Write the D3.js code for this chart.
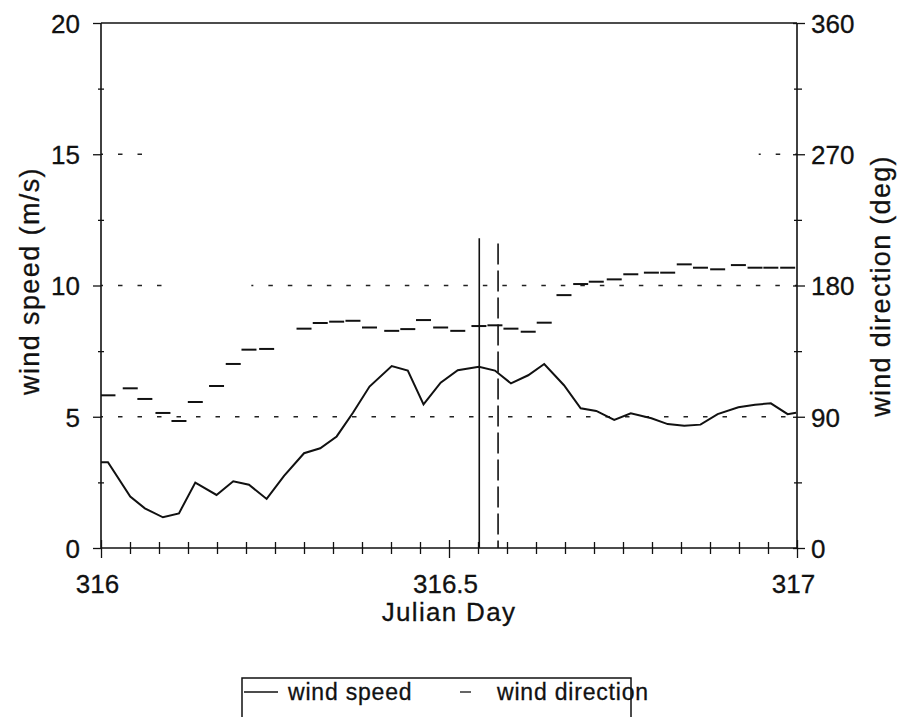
<!DOCTYPE html>
<html>
<head>
<meta charset="utf-8">
<script src="https://cdn.jsdelivr.net/npm/d3@7/dist/d3.min.js"></script>
<style>
  html, body { margin: 0; padding: 0; background: #fff; }
  svg { display: block; }
  text { font-family: "Liberation Sans", Arial, Helvetica, sans-serif; fill: #111; stroke: #111; stroke-width: 0.3px; }
</style>
</head>
<body>
<svg id="chart" width="912" height="717"></svg>
<script>
// ---- data (Julian day offsets from 316) ----
const dayOffset = [0.000, 0.010, 0.042, 0.063, 0.089, 0.112, 0.1355, 0.166, 0.190, 0.2126,
  0.238, 0.263, 0.2917, 0.315, 0.3386, 0.362, 0.3858, 0.4177, 0.4408, 0.4634,
  0.488, 0.5126, 0.543, 0.566, 0.589, 0.6138, 0.6368, 0.6652, 0.6892, 0.7116,
  0.7374, 0.7612, 0.7908, 0.8142, 0.838, 0.8613, 0.886, 0.9158, 0.9397, 0.9624,
  0.9866, 0.9986];
const windSpeed = [3.27, 3.27, 1.96, 1.51, 1.17, 1.32, 2.49, 2.02, 2.54, 2.41,
  1.87, 2.75, 3.61, 3.80, 4.25, 5.15, 6.15, 6.93, 6.76, 5.47,
  6.30, 6.77, 6.90, 6.76, 6.27, 6.58, 7.01, 6.20, 5.32, 5.22,
  4.88, 5.13, 4.94, 4.72, 4.66, 4.70, 5.10, 5.36, 5.46, 5.51,
  5.10, 5.15];
const windDirection = [null, 104.7, 109.5, 102.2, 92.6, 87.1, 100.1, 111.1, 126.2, 136.0,
  136.5, null, 150.4, 154.3, 155.2, 155.8, 151.2, 148.9, 150.1, 156.3,
  151.2, 148.9, 152.2, 152.7, 150.4, 148.3, 154.5, 173.4, 181.0, 182.6,
  184.2, 187.7, 188.8, 188.8, 194.5, 192.2, 191.1, 194.0, 192.2, 192.2,
  192.2, null];
const speedTicks = [0, 5, 10, 15, 20];
const speedMinorTicks = [2.5, 7.5, 12.5, 17.5];
const dirTicks = [0, 90, 180, 270, 360];
const dirMinorTicks = [45, 135, 225, 315];
const dayLabels = [316, 316.5, 317];
// dotted reference lines (value in m/s, visible day ranges)
const gridLines = [
  { value: 5,  from: 316.0,  to: 317.0 },
  { value: 10, from: 316.0,  to: 316.095 },
  { value: 10, from: 316.216, to: 317.0 },
  { value: 15, from: 316.0,  to: 316.065 },
  { value: 15, from: 316.945, to: 317.0 }
];
// vertical event markers: [day, top in m/s]
const eventLines = [
  { day: 316.5435, top: 11.8, style: "solid" },
  { day: 316.5705, top: 11.6, style: "dashed" }
];
const seriesNames = ["wind speed", "wind direction"];

// ---- layout ----
const svg = d3.select("#chart");
const L = 101, R = 797, T = 23, B = 548;
const x = d3.scaleLinear().domain([316, 317]).range([L, R]);
const yS = d3.scaleLinear().domain([0, 20]).range([B, T]);
const yD = d3.scaleLinear().domain([0, 360]).range([B, T]);
const days = dayOffset.map(d => 316 + d);

// dotted grid
svg.append("g").selectAll("line").data(gridLines).join("line")
  .attr("x1", d => x(d.from)).attr("x2", d => x(d.to))
  .attr("y1", d => yS(d.value)).attr("y2", d => yS(d.value))
  .attr("stroke", "#222").attr("stroke-width", 1.5)
  .attr("stroke-dasharray", "4.5,15").attr("stroke-dashoffset", -17);

// frame: top line
svg.append("line").attr("x1", L).attr("x2", R).attr("y1", T).attr("y2", T)
  .attr("stroke", "#111").attr("stroke-width", 1.6);

// left axis
const axL = svg.append("g").attr("transform", `translate(${L},0)`)
  .call(d3.axisLeft(yS).tickValues(speedTicks).tickSize(8).tickPadding(13).tickFormat(d3.format("d")));
const axLm = svg.append("g").attr("transform", `translate(${L},0)`)
  .call(d3.axisLeft(yS).tickValues(speedMinorTicks).tickSize(3).tickFormat(""));
axLm.selectAll(".tick line").attr("x2", 3).attr("x1", -3).attr("stroke", "#111").attr("stroke-width", 1.3);
axLm.select(".domain").remove();

// right axis
const axR = svg.append("g").attr("transform", `translate(${R},0)`)
  .call(d3.axisRight(yD).tickValues(dirTicks).tickSize(8).tickPadding(6).tickFormat(d3.format("d")));
axR.selectAll(".tick line").attr("x1", -4);
const axRm = svg.append("g").attr("transform", `translate(${R},0)`)
  .call(d3.axisRight(yD).tickValues(dirMinorTicks).tickSize(5).tickFormat(""));
axRm.selectAll(".tick line").attr("x1", -3).attr("x2", 5).attr("stroke", "#111").attr("stroke-width", 1.3);
axRm.select(".domain").remove();

// bottom axis
const hourTicks = d3.range(0, 25).map(i => 316 + i / 24);
const isLabel = d => dayLabels.some(v => Math.abs(v - d) < 1e-9);
const axB = svg.append("g").attr("transform", `translate(0,${B})`)
  .call(d3.axisBottom(x).tickValues(hourTicks).tickSize(6)
    .tickFormat(d => isLabel(d) ? d3.format("")(+d.toFixed(1)) : ""));
axB.selectAll(".tick line").attr("y1", -6).attr("y2", 6);
axB.selectAll(".tick").filter(isLabel).select("line").attr("y1", -8).attr("y2", 10);
axB.selectAll(".tick text").attr("y", 45).attr("dy", null).attr("dx", -4);

[axL, axR, axB].forEach(g => {
  g.select(".domain").attr("stroke", "#111").attr("stroke-width", 1.6);
  g.selectAll(".tick line").attr("stroke", "#111").attr("stroke-width", 1.3);
  g.selectAll(".tick text").style("font-size", "26px").attr("fill", "#111");
});
axL.selectAll(".tick text").attr("dy", "0.36em");
axR.selectAll(".tick text").attr("dy", "0.36em");
axL.select(".domain").attr("d", `M0,${B}V${T}`);
axR.select(".domain").attr("d", `M0,${B}V${T}`);
axB.select(".domain").attr("d", `M${L},0H${R}`);

// axis titles
svg.append("text").attr("transform", `translate(39,281) rotate(-90)`)
  .attr("text-anchor", "middle").style("font-size", "27px").style("letter-spacing", "1.4px")
  .text("wind speed (m/s)");
svg.append("text").attr("transform", `translate(890,286) rotate(-90)`)
  .attr("text-anchor", "middle").style("font-size", "27px").style("letter-spacing", "1.3px")
  .text("wind direction (deg)");
svg.append("text").attr("x", 449).attr("y", 621).attr("text-anchor", "middle")
  .style("font-size", "26px").style("letter-spacing", "1.3px").text("Julian Day");

// event lines
svg.append("g").selectAll("line").data(eventLines).join("line")
  .attr("x1", d => x(d.day)).attr("x2", d => x(d.day))
  .attr("y1", d => yS(d.top)).attr("y2", B)
  .attr("stroke", "#111").attr("stroke-width", 1.6)
  .attr("stroke-dasharray", d => d.style === "dashed" ? "21,6" : null);

// wind speed line
const speedPts = days.map((d, i) => [d, windSpeed[i]]);
svg.append("path").datum(speedPts)
  .attr("fill", "none").attr("stroke", "#111").attr("stroke-width", 2)
  .attr("stroke-linejoin", "miter")
  .attr("d", d3.line().x(d => x(d[0])).y(d => yS(d[1])));

// wind direction markers (short horizontal dashes)
const dirPts = days.map((d, i) => [d, windDirection[i]]).filter(p => p[1] != null);
svg.append("g").selectAll("line").data(dirPts).join("line")
  .attr("x1", d => Math.max(L, x(d[0]) - 7.5)).attr("x2", d => x(d[0]) + 7.5)
  .attr("y1", d => yD(d[1])).attr("y2", d => yD(d[1]))
  .attr("stroke", "#111").attr("stroke-width", 2);

// legend
const lg = svg.append("g");
lg.append("rect").attr("x", 242).attr("y", 678).attr("width", 389).attr("height", 60)
  .attr("fill", "none").attr("stroke", "#111").attr("stroke-width", 1.5);
lg.append("line").attr("x1", 244).attr("x2", 278).attr("y1", 692).attr("y2", 692)
  .attr("stroke", "#111").attr("stroke-width", 1.3);
lg.append("text").attr("x", 288).attr("y", 700).style("font-size", "23px")
  .style("letter-spacing", "0.8px").text(seriesNames[0]);
lg.append("line").attr("x1", 460).attr("x2", 471).attr("y1", 692).attr("y2", 692)
  .attr("stroke", "#111").attr("stroke-width", 1.3);
lg.append("text").attr("x", 497).attr("y", 700).style("font-size", "23px")
  .style("letter-spacing", "0.8px").text(seriesNames[1]);
</script>
</body>
</html>
